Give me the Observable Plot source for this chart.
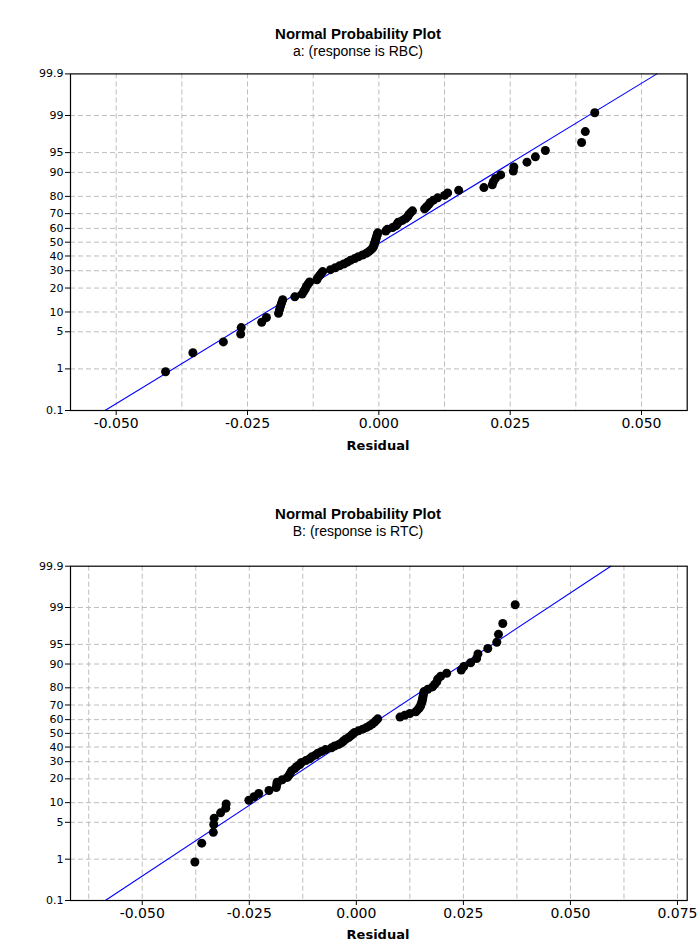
<!DOCTYPE html>
<html><head><meta charset="utf-8">
<script src="https://cdn.jsdelivr.net/npm/d3@7"></script>
<script src="https://cdn.jsdelivr.net/npm/@observablehq/plot@0.6"></script>
<style>
body{margin:0;background:#fff;}
#wrap{position:relative;width:699px;height:946px;overflow:hidden;font-family:"Liberation Sans",Arial,sans-serif;color:#000;}
.title{position:absolute;transform:translateX(-50%);white-space:nowrap;font-weight:bold;font-size:15px;}
.sub{position:absolute;transform:translateX(-50%);white-space:nowrap;font-size:14px;}
.xl{position:absolute;transform:translateX(-50%);white-space:nowrap;font-weight:bold;font-size:13px;font-family:"DejaVu Sans",Verdana,sans-serif;}
.yl{position:absolute;transform:translate(-50%,-50%) rotate(-90deg);white-space:nowrap;font-weight:bold;font-size:13px;font-family:"DejaVu Sans",Verdana,sans-serif;}
.panel{position:absolute;left:0;}
</style>
</head><body>
<div id="wrap">
  <div class="title" style="left:358px;top:25px">Normal Probability Plot</div>
  <div class="sub" style="left:358px;top:43px">a: (response is RBC)</div>
  <div class="yl" style="left:16px;top:241px">Percent</div>
  <div class="panel" id="pa" style="top:60px"></div>
  <div class="xl" style="left:378px;top:438px">Residual</div>

  <div class="title" style="left:358px;top:505px">Normal Probability Plot</div>
  <div class="sub" style="left:358px;top:523px">B: (response is RTC)</div>
  <div class="yl" style="left:16px;top:733px">Percent</div>
  <div class="panel" id="pb" style="top:550px"></div>
  <div class="xl" style="left:378px;top:927px">Residual</div>
</div>
<script>
// ---- data (residuals, sorted) ----
const residualsA = [
  -0.0406,-0.0354,-0.0296,-0.0263,-0.0262,-0.0223,-0.0214,-0.0191,-0.0189,-0.0187,
  -0.0185,-0.0183,-0.0160,-0.0146,-0.0143,-0.0140,-0.0138,-0.0135,-0.0132,-0.0118,
  -0.0116,-0.0113,-0.0110,-0.0107,-0.0092,-0.0083,-0.0075,-0.0067,-0.0060,-0.0054,
  -0.0046,-0.0039,-0.0031,-0.0024,-0.0019,-0.0015,-0.0012,-0.0010,-0.0009,-0.0008,
  -0.0007,-0.0006,-0.0005,-0.0004,-0.0003,-0.0002,0.0013,0.0016,0.0026,0.0032,
  0.0035,0.0037,0.0045,0.0051,0.0055,0.0057,0.0060,0.0064,0.0087,0.0091,
  0.0095,0.0098,0.0104,0.0112,0.0125,0.0131,0.0152,0.0200,0.0216,0.0218,
  0.0222,0.0232,0.0256,0.0257,0.0282,0.0298,0.0317,0.0386,0.0393,0.0411
];
const residualsB = [
  -0.0377,-0.0361,-0.0334,-0.0333,-0.0332,-0.0317,-0.0305,-0.0304,-0.0251,-0.0239,
  -0.0228,-0.0204,-0.0187,-0.0186,-0.0185,-0.0173,-0.0161,-0.0157,-0.0154,-0.0151,
  -0.0144,-0.0139,-0.0132,-0.0128,-0.0118,-0.0109,-0.0104,-0.0095,-0.0090,-0.0081,
  -0.0072,-0.0058,-0.0051,-0.0041,-0.0034,-0.0030,-0.0025,-0.0018,-0.0013,-0.0009,
  -0.0004,0.0005,0.0015,0.0024,0.0031,0.0037,0.0042,0.0046,0.0050,0.0102,
  0.0113,0.0125,0.0139,0.0143,0.0147,0.0150,0.0151,0.0153,0.0154,0.0155,
  0.0156,0.0157,0.0158,0.0167,0.0178,0.0183,0.0188,0.0190,0.0197,0.0211,
  0.0245,0.0251,0.0267,0.0281,0.0284,0.0307,0.0328,0.0332,0.0342,0.0371
];
// fitted normal lines (mean, standard deviation)
const fitA = {mean: 0.0004, sd: 0.0170};
const fitB = {mean: 0.0004, sd: 0.0191};
// axis ticks
const percentTicks = [0.1, 1, 5, 10, 20, 30, 40, 50, 60, 70, 80, 90, 95, 99, 99.9];
const percentGrid = [1, 5, 10, 20, 30, 40, 50, 60, 70, 80, 90, 95, 99];
const xTicksA = [-0.05, -0.025, 0, 0.025, 0.05];
const xGridA = [-0.05, -0.0375, -0.025, -0.0125, 0, 0.0125, 0.025, 0.0375, 0.05];
const xDomainA = [-0.0587, 0.0587];
const xTicksB = [-0.05, -0.025, 0, 0.025, 0.05, 0.075];
const xGridB = [-0.0625, -0.05, -0.0375, -0.025, -0.0125, 0, 0.0125, 0.025, 0.0375, 0.05, 0.0625, 0.075];
const xDomainB = [-0.06675, 0.07727];

// inverse standard normal CDF (probability-paper transform)
function probit(p) {
  const a=[-3.969683028665376e+01,2.209460984245205e+02,-2.759285104469687e+02,1.383577518672690e+02,-3.066479806614716e+01,2.506628277459239e+00];
  const b=[-5.447609879822406e+01,1.615858368580409e+02,-1.556989798598866e+02,6.680131188771972e+01,-1.328068155288572e+01];
  const c=[-7.784894002430293e-03,-3.223964580411365e-01,-2.400758277161838e+00,-2.549732539343734e+00,4.374664141464968e+00,2.938163982698783e+00];
  const d=[7.784695709041462e-03,3.224671290700398e-01,2.445134137142996e+00,3.754408661907416e+00];
  const pl=0.02425, ph=1-pl;
  if (p < pl) { const q=Math.sqrt(-2*Math.log(p)); return (((((c[0]*q+c[1])*q+c[2])*q+c[3])*q+c[4])*q+c[5])/((((d[0]*q+d[1])*q+d[2])*q+d[3])*q+1); }
  if (p <= ph) { const q=p-0.5, r=q*q; return (((((a[0]*r+a[1])*r+a[2])*r+a[3])*r+a[4])*r+a[5])*q/(((((b[0]*r+b[1])*r+b[2])*r+b[3])*r+b[4])*r+1); }
  const q=Math.sqrt(-2*Math.log(1-p)); return -(((((c[0]*q+c[1])*q+c[2])*q+c[3])*q+c[4])*q+c[5])/((((d[0]*q+d[1])*q+d[2])*q+d[3])*q+1);
}
const zOf = pct => probit(pct/100);
const yTickZ = percentTicks.map(zOf);
const labelMap = new Map(yTickZ.map((z,i)=>[z, String(percentTicks[i])]));
const yGridZ = percentGrid.map(zOf);

function pointsFrom(res) {
  const n = res.length;
  return res.map((r,i)=>({r, z: zOf(100*(i+1-0.3)/(n+0.4))}));
}
function fitLine(fit) {
  return [0.1, 99.9].map(p=>({r: fit.mean + fit.sd*zOf(p), z: zOf(p)}));
}

function panel(res, fit, xDomain, xTicks, xGrid, marginTop, marginBottom, height) {
  const gridStyle = {stroke:"#bdbdbd", strokeOpacity:1, strokeWidth:1, strokeDasharray:"5,3"};
  return Plot.plot({
    width: 699, height,
    marginLeft: 70, marginRight: 12.3, marginTop, marginBottom,
    style: {fontFamily: "'DejaVu Sans', Verdana, sans-serif", fontSize: "14px", color: "#000", background: "#fff", overflow: "visible"},
    x: {domain: xDomain},
    y: {domain: [zOf(0.1), zOf(99.9)]},
    marks: [
      Plot.gridX(xGrid, gridStyle),
      Plot.gridY(yGridZ, gridStyle),
      Plot.line(fitLine(fit), {x:"r", y:"z", stroke:"#0000ff", strokeWidth:1.1}),
      Plot.dot(pointsFrom(res), {x:"r", y:"z", r:4.5, fill:"#000", stroke:"none"}),
      Plot.axisX(xTicks, {tickFormat: d => d.toFixed(3), tickSize: 5, tickPadding: 3, fontSize: 14, label: null}),
      Plot.axisY(yTickZ, {tickFormat: z => labelMap.get(z), tickSize: 5, tickPadding: 2, fontSize: 11, label: null}),
      Plot.frame({stroke:"#000", strokeWidth:1.2})
    ]
  });
}
document.getElementById("pa").appendChild(panel(residualsA, fitA, xDomainA, xTicksA, xGridA, 13.4, 50, 400));
document.getElementById("pb").appendChild(panel(residualsB, fitB, xDomainB, xTicksB, xGridB, 15.7, 46, 396));
</script>
</body></html>
